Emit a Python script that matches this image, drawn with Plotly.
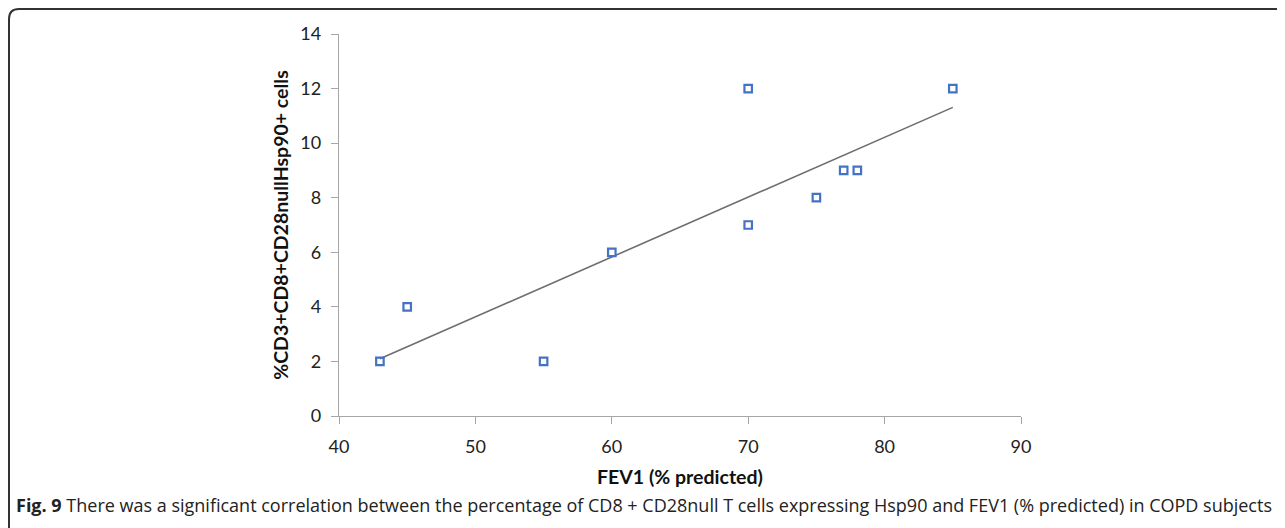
import numpy as np
import plotly.graph_objects as go

# Data
fev1 = [43, 45, 55, 60, 70, 70, 75, 77, 78, 85]
cells = [2, 4, 2, 6, 12, 7, 8, 9, 9, 12]
x_ticks = [40, 50, 60, 70, 80, 90]
y_ticks = [0, 2, 4, 6, 8, 10, 12, 14]

x_title = "FEV1 (% predicted)"
y_title = "%CD3+CD8+CD28nullHsp90+ cells"
caption = ("<b>Fig. 9</b> There was a significant correlation between the percentage of "
           "CD8 + CD28null T cells expressing Hsp90 and FEV1 (% predicted) in COPD subjects")

# Linear trendline (least squares)
slope, intercept = np.polyfit(fev1, cells, 1)
trend_x = [min(fev1), max(fev1)]
trend_y = [slope * v + intercept for v in trend_x]

OFF = 8  # page body margin
W, H = 1285 - OFF, 528 - OFF
L, T = 339 - OFF, 34 - OFF
pw, ph = 682, 382
R, B = W - L - pw, H - T - ph


def px(xp):
    return (xp - OFF - L) / pw


def py(yp):
    return (T + ph - (yp - OFF)) / ph


fig = go.Figure()
fig.add_trace(go.Scatter(x=trend_x, y=trend_y, mode="lines",
                         line=dict(color="#6e6e6e", width=1.6),
                         hoverinfo="skip", showlegend=False))
fig.add_trace(go.Scatter(x=fev1, y=cells, mode="markers",
                         marker=dict(symbol="square-open", size=7.5,
                                     color="#4472c4", line=dict(width=2.2, color="#4472c4")),
                         showlegend=False))

axis_font = dict(family="Lato, Open Sans, sans-serif", size=18, color="#222")
title_font = dict(family="Lato, Open Sans, sans-serif", size=19.5, color="#111")

fig.update_xaxes(range=[40, 90], tickvals=x_ticks, showgrid=False, zeroline=False,
                 showline=True, linecolor="#a6a6a6", linewidth=1.3,
                 ticks="outside", ticklen=7, tickcolor="#a6a6a6", tickwidth=1.3,
                 tickfont=axis_font, ticklabelstandoff=7,
                 title=dict(text="<b>" + x_title + "</b>", font=title_font, standoff=14))
fig.update_yaxes(range=[0, 14], tickvals=y_ticks, showgrid=False, zeroline=False,
                 showline=True, linecolor="#a6a6a6", linewidth=1.3,
                 ticks="outside", ticklen=7, tickcolor="#a6a6a6", tickwidth=1.3,
                 tickfont=axis_font, ticklabelstandoff=6,
                 title=dict(text="<b>" + y_title + "</b>", font=title_font, standoff=6))

# Caption
fig.add_annotation(x=px(14), y=py(505), xref="paper", yref="paper",
                   xanchor="left", yanchor="middle", showarrow=False,
                   text=caption,
                   font=dict(family="Open Sans, sans-serif", size=18, color="#222"))

# Frame (top and left edges with rounded corner)
r = 10
path = (f"M {px(9)} {py(545)} L {px(9)} {py(9 + r)} "
        f"Q {px(9)} {py(9)} {px(9 + r)} {py(9)} L {px(1300)} {py(9)}")
fig.add_shape(type="path", xref="paper", yref="paper", path=path,
              line=dict(color="#333333", width=2))

fig.update_layout(width=W, height=H, margin=dict(l=L, r=R, t=T, b=B),
                  paper_bgcolor="white", plot_bgcolor="white")

fig.write_html("out.html")
